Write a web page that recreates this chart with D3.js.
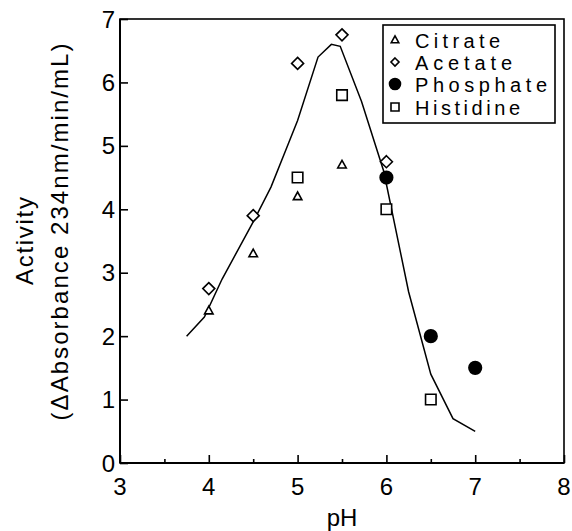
<!DOCTYPE html>
<html><head><meta charset="utf-8">
<script src="https://cdn.jsdelivr.net/npm/d3@7"></script>
<style>
html,body{margin:0;padding:0;background:#fff;}
svg text{font-family:"Liberation Sans",Arial,sans-serif;fill:#000;}
</style></head>
<body><svg id="c" width="572" height="531"></svg>
<script>
// ---- data ----
const xTicks = [3,4,5,6,7,8];
const xMinorTicks = [3.5,4.5,5.5,6.5,7.5];
const yTicks = [0,1,2,3,4,5,6,7];
const citrateX = [4,4.5,5,5.5];
const citrateY = [2.4,3.3,4.2,4.7];
const acetateX = [4,4.5,5,5.5,6];
const acetateY = [2.75,3.9,6.3,6.75,4.75];
const phosphateX = [6,6.5,7];
const phosphateY = [4.5,2.0,1.5];
const histidineX = [5,5.5,6,6.5];
const histidineY = [4.5,5.8,4.0,1.0];
const curveX = [3.75,3.95,4.15,4.5,4.7,4.9,5.0,5.23,5.38,5.48,5.72,5.97,6.25,6.5,6.75,7.0];
const curveY = [2.0,2.3,2.9,3.8,4.35,5.05,5.4,6.4,6.6,6.57,5.7,4.6,2.7,1.4,0.7,0.5];
const legendLabels = ["Citrate","Acetate","Phosphate","Histidine"];

const svg = d3.select("#c");
const L=120,R=564,T=19,B=463;
const x = d3.scaleLinear().domain([3,8]).range([L,R]);
const y = d3.scaleLinear().domain([0,7]).range([B,T]);

// frame
svg.append("rect").attr("x",L).attr("y",T).attr("width",R-L).attr("height",B-T)
  .attr("fill","none").attr("stroke","#000").attr("stroke-width",1.6);
svg.append("line").attr("x1",L).attr("x2",R).attr("y1",B).attr("y2",B).attr("stroke","#000").attr("stroke-width",2.2);
svg.append("line").attr("x1",L).attr("x2",L).attr("y1",T).attr("y2",B).attr("stroke","#000").attr("stroke-width",2);

// x ticks (inward)
const xAxis = d3.axisTop(x).tickValues(xTicks).tickSize(8).tickFormat("");
const gx = svg.append("g").attr("transform",`translate(0,${B})`).call(xAxis);
const xAxisMinor = d3.axisTop(x).tickValues(xMinorTicks).tickSize(4).tickFormat("");
const gx2 = svg.append("g").attr("transform",`translate(0,${B})`).call(xAxisMinor);
[gx,gx2].forEach(g=>{g.select(".domain").remove();g.selectAll("line").attr("stroke","#000").attr("stroke-width",1.6);});
svg.append("g").selectAll("text").data(xTicks).join("text")
  .attr("x",d=>x(d)).attr("y",495).attr("text-anchor","middle").attr("font-size",24).text(d=>d);

// y ticks (inward)
const yAxis = d3.axisRight(y).tickValues(yTicks).tickSize(8).tickFormat("");
const gy = svg.append("g").attr("transform",`translate(${L},0)`).call(yAxis);
gy.select(".domain").remove();
gy.selectAll("line").attr("stroke","#000").attr("stroke-width",1.6);
svg.append("g").selectAll("text").data(yTicks).join("text")
  .attr("x",115).attr("y",d=>y(d)+8.5).attr("text-anchor","end").attr("font-size",24).text(d=>d);

// axis titles
svg.append("text").attr("x",342).attr("y",526).attr("text-anchor","middle").attr("font-size",24).text("pH");
svg.append("text").attr("transform","translate(33,241) rotate(-90)").attr("text-anchor","middle")
  .attr("font-size",24).attr("textLength",88).attr("lengthAdjust","spacing").text("Activity");
svg.append("text").attr("transform","translate(68,232) rotate(-90)").attr("text-anchor","middle")
  .attr("font-size",24).attr("textLength",377).attr("lengthAdjust","spacing").text("(\u0394Absorbance  234nm/min/mL)");

// curve
const line = d3.line().x(d=>x(d[0])).y(d=>y(d[1]));
svg.append("path").datum(curveX.map((v,i)=>[v,curveY[i]])).attr("d",line)
  .attr("fill","none").attr("stroke","#000").attr("stroke-width",1.5);

// symbol paths
function tri(s){const h=s*0.9;return `M0,${-h*0.6}L${s/2},${h*0.4}L${-s/2},${h*0.4}Z`;}
function dia(s){const r=s/2;return `M0,${-r}L${r},0L0,${r}L${-r},0Z`;}
function sq(s){const r=s/2;return `M${-r},${-r}H${r}V${r}H${-r}Z`;}

function pts(xs,ys,path,filled){
  svg.append("g").selectAll("path").data(xs.map((v,i)=>[v,ys[i]])).join("path")
    .attr("transform",d=>`translate(${x(d[0])},${y(d[1])})`).attr("d",path)
    .attr("fill",filled?"#000":"#fff").attr("stroke","#000").attr("stroke-width",1.6);
}
pts(citrateX,citrateY,tri(8.5),false);
pts(acetateX,acetateY,dia(12),false);
pts(phosphateX,phosphateY,d3.symbol(d3.symbolCircle,Math.PI*6.3*6.3)(),true);
pts(histidineX,histidineY,sq(10.5),false);

// legend
svg.append("rect").attr("x",383).attr("y",25).attr("width",172).attr("height",98)
  .attr("fill","#fff").attr("stroke","#000").attr("stroke-width",1.6);
const legPaths=[tri(7.5),dia(8),d3.symbol(d3.symbolCircle,Math.PI*5.5*5.5)(),sq(8)];
const legFill=[false,false,true,false];
const legY=[40,62,84,107];
const legW=[85,97,132,105];
legendLabels.forEach((lab,i)=>{
  svg.append("path").attr("transform",`translate(395,${legY[i]})`).attr("d",legPaths[i])
    .attr("fill",legFill[i]?"#000":"#fff").attr("stroke","#000").attr("stroke-width",1.6);
  svg.append("text").attr("x",415).attr("y",legY[i]+7.5).attr("font-size",20)
    .attr("textLength",legW[i]).attr("lengthAdjust","spacing").text(lab);
});
</script></body></html>
